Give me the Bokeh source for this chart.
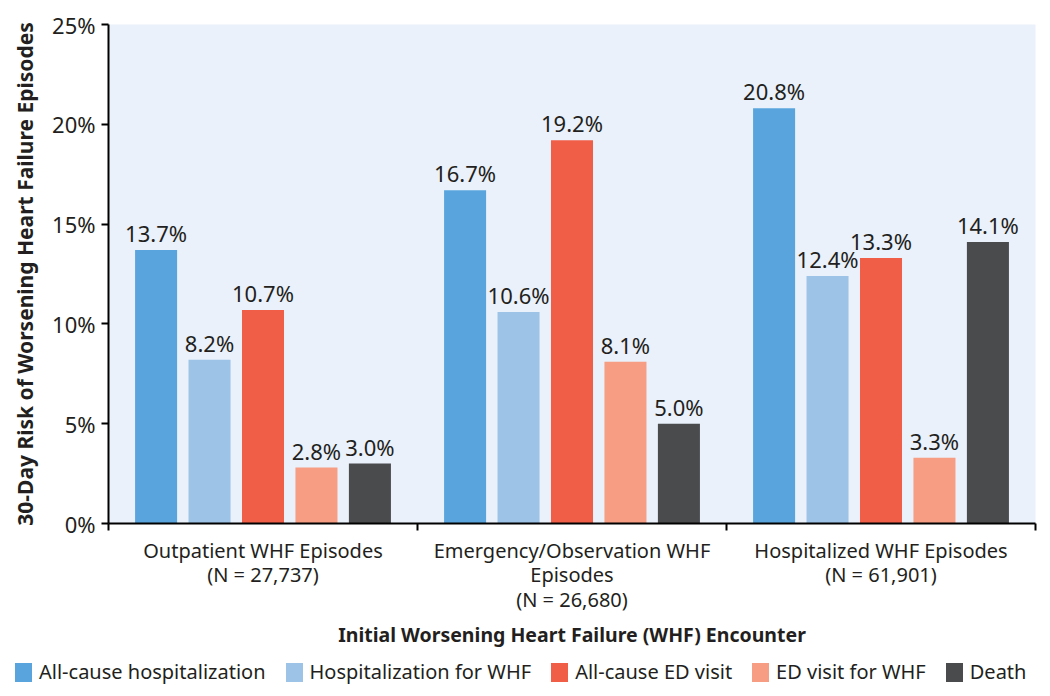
from bokeh.plotting import figure
from bokeh.layouts import column
from bokeh.models import Range1d, FixedTicker, PrintfTickFormatter, ColumnDataSource, LabelSet, Div
from bokeh.core.properties import value
from bokeh.embed import file_html
from bokeh.resources import INLINE

categories = ["Outpatient WHF Episodes\n(N = 27,737)",
              "Emergency/Observation WHF\nEpisodes\n(N = 26,680)",
              "Hospitalized WHF Episodes\n(N = 61,901)"]
series = ["All-cause hospitalization", "Hospitalization for WHF", "All-cause ED visit",
          "ED visit for WHF", "Death"]
all_cause_hosp = [13.7, 16.7, 20.8]
hosp_whf = [8.2, 10.6, 12.4]
all_cause_ed = [10.7, 19.2, 13.3]
ed_whf = [2.8, 8.1, 3.3]
death = [3.0, 5.0, 14.1]
y_ticks = [0, 5, 10, 15, 20, 25]

values = [all_cause_hosp, hosp_whf, all_cause_ed, ed_whf, death]
colors = ["#5AA4DD", "#9DC3E7", "#F05E48", "#F69D84", "#4A4B4D"]
FONT = "Noto Sans"
TXT = "#231F20"

p = figure(width=1050, height=655, output_backend="svg", toolbar_location=None,
           x_range=Range1d(0, 3), y_range=Range1d(0, 25),
           min_border_left=108, min_border_right=15, min_border_top=24, min_border_bottom=132)
p.background_fill_color = "#EAF1FA"
p.border_fill_color = "white"
p.outline_line_color = None
p.grid.visible = False

step = 0.173
bw = 0.136
for j, (name, vals, col) in enumerate(zip(series, values, colors)):
    xs = [i + 0.5 + (j - 2) * step for i in range(len(vals))]
    src = ColumnDataSource(dict(x=xs, top=vals, lab=[f"{v:.1f}%" for v in vals]))
    p.vbar(x="x", top="top", width=bw, source=src, fill_color=col, line_color=None)
    p.add_layout(LabelSet(x="x", y="top", text="lab", source=src, text_align="center",
                          text_baseline="bottom", y_offset=2, text_font=value(FONT),
                          text_font_size="22px", text_color=TXT))

# x axis
xa = p.xaxis[0]
xa.ticker = FixedTicker(ticks=[0.5, 1.5, 2.5], minor_ticks=[0, 1, 2, 3])
xa.major_label_overrides = {0.5: categories[0], 1.5: categories[1], 2.5: categories[2]}
xa.major_tick_line_color = None
xa.major_tick_out = 0
xa.major_tick_in = 0
xa.minor_tick_in = 0
xa.minor_tick_out = 7
xa.minor_tick_line_color = "black"
xa.minor_tick_line_width = 2
xa.axis_line_color = "black"
xa.axis_line_width = 2
xa.major_label_text_font = FONT
xa.major_label_text_font_size = "20px"
xa.major_label_text_color = TXT
xa.major_label_text_line_height = 0.92
xa.major_label_standoff = 6
xa.axis_label = "Initial Worsening Heart Failure (WHF) Encounter"
xa.axis_label_text_font = FONT
xa.axis_label_text_font_style = "bold"
xa.axis_label_text_font_size = "19.5px"
xa.axis_label_text_color = TXT
xa.axis_label_standoff = 5

ya = p.yaxis[0]
ya.ticker = FixedTicker(ticks=y_ticks)
ya.formatter = PrintfTickFormatter(format="%d%%")
ya.minor_tick_line_color = None
ya.major_tick_in = 0
ya.major_tick_out = 7
ya.major_tick_line_width = 2
ya.major_tick_line_color = "black"
ya.axis_line_color = "black"
ya.axis_line_width = 2
ya.major_label_text_font = FONT
ya.major_label_text_font_size = "22px"
ya.major_label_text_color = TXT
ya.major_label_standoff = 6
ya.axis_label = "30-Day Risk of Worsening Heart Failure Episodes"
ya.axis_label_text_font = FONT
ya.axis_label_text_font_style = "bold"
ya.axis_label_text_font_size = "21px"
ya.axis_label_text_color = TXT
ya.axis_label_standoff = 10

# legend strip
parts = []
for i, (name, col) in enumerate(zip(series, colors)):
    gap = "20px" if i < len(series) - 1 else "0"
    parts.append(
        f'<span style="display:inline-block;width:17px;height:19px;background:{col};'
        f'margin-right:7px;flex:none"></span>'
        f'<span style="margin-right:{gap};white-space:nowrap">{name}</span>')
legend_html = ('<div style="display:flex;align-items:center;height:34px;padding-left:15px;'
               f'font-family:\'{FONT}\';font-size:20px;color:{TXT};">' + "".join(parts) + '</div>')
lg = Div(text=legend_html, width=1050, height=41, margin=(0, 0, 0, 0))

layout = column(p, lg, spacing=0)
open("out.html", "w").write(file_html(layout, INLINE))
